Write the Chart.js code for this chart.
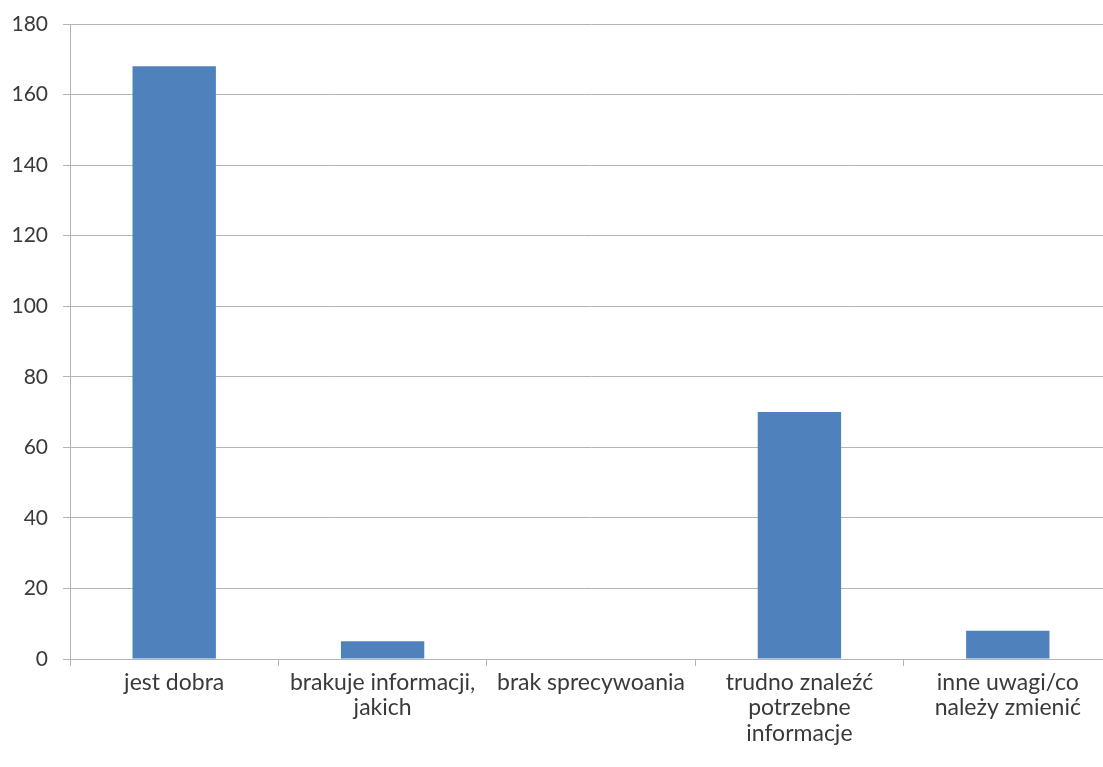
<!DOCTYPE html>
<html>
<head>
<meta charset="utf-8">
<script src="https://cdn.jsdelivr.net/npm/chart.js@4"></script>
<style>
  html, body { margin: 0; padding: 0; background: #fff; }
  #wrap { width: 1103px; height: 767px; overflow: hidden; }
</style>
</head>
<body>
<div id="wrap"><canvas id="chart" width="1112" height="767"></canvas></div>
<script>
const categories = [
  'jest dobra',
  ['brakuje informacji,', 'jakich'],
  'brak sprecywoania',
  ['trudno znaleźć', 'potrzebne', 'informacje'],
  ['inne uwagi/co', 'należy zmienić']
];
const counts = [168, 5, 0, 70, 8];
const yTicks = { min: 0, max: 180, step: 20 };

const textColor = '#3a3a3a';
const gridColor = '#b4b4b4';
const barColor = '#4f81bd';
const xFont = { family: 'Lato, "Open Sans", sans-serif', size: 23, lineHeight: 1.1 };
const yFont = { family: 'Lato, "Open Sans", sans-serif', size: 21, lineHeight: 1 };

new Chart(document.getElementById('chart'), {
  type: 'bar',
  data: {
    labels: categories,
    datasets: [{ data: counts, backgroundColor: barColor, borderWidth: 0, barPercentage: 0.8, categoryPercentage: 0.5 }]
  },
  options: {
    responsive: false,
    animation: false,
    layout: { padding: { top: 24, right: 0, bottom: 0, left: 0 } },
    plugins: { legend: { display: false }, tooltip: { enabled: false } },
    scales: {
      x: {
        grid: { drawOnChartArea: false, drawTicks: true, tickLength: 7, color: gridColor, offset: true },
        border: { color: gridColor, width: 1 },
        ticks: { color: textColor, font: xFont, padding: 4, maxRotation: 0, autoSkip: false },
        afterFit: s => { s.height = 108; }
      },
      y: {
        min: yTicks.min, max: yTicks.max,
        grid: { color: gridColor, tickLength: 7 },
        border: { color: gridColor, width: 1 },
        ticks: { stepSize: yTicks.step, color: textColor, font: yFont, padding: 15 },
        afterFit: s => { s.width = 70; s.paddingTop = 0; }
      }
    }
  }
});
</script>
</body>
</html>
